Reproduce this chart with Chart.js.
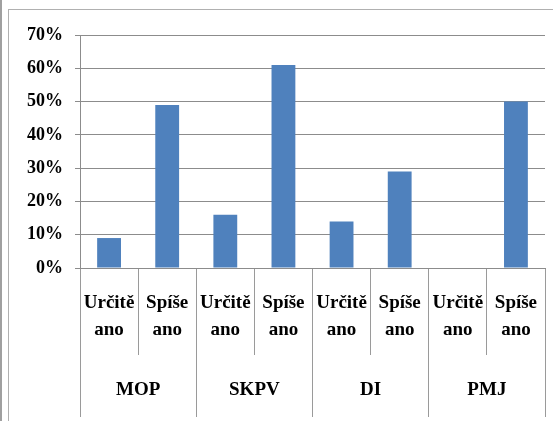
<!DOCTYPE html>
<html>
<head>
<meta charset="utf-8">
<script src="https://cdn.jsdelivr.net/npm/chart.js@4"></script>
<style>
    body { margin: 0; background: #fff; }
    #wrap { position: relative; width: 553px; height: 421px; overflow: hidden; }
    #edge { position: absolute; left: 0; top: 0; width: 2px; height: 421px; background: #a0a0a0; }
    #frame { position: absolute; left: 8px; top: 9px; width: 700px; height: 600px; border: 1px solid #b0b0b0; }
    canvas { position: absolute; left: 0; top: 0; }
</style>
</head>
<body>
<div id="wrap">
    <div id="edge"></div>
    <div id="frame"></div>
    <canvas id="chart" width="553" height="421"></canvas>
</div>
<script>
// データ
const subLabels = [["Určitě", "ano"], ["Spíše", "ano"], ["Určitě", "ano"], ["Spíše", "ano"],
                   ["Určitě", "ano"], ["Spíše", "ano"], ["Určitě", "ano"], ["Spíše", "ano"]];
const groupLabels = ["MOP", "SKPV", "DI", "PMJ"];
const values = [9, 49, 16, 61, 14, 29, 0, 50];
const yTicks = [0, 10, 20, 30, 40, 50, 60, 70];

const serif = '"Liberation Serif", "DejaVu Serif", serif';
const yFont = { family: serif, size: 18, weight: 'bold' };
const xFont = { family: serif, size: 19, weight: 'bold', lineHeight: 1.42 };
const gridColor = '#8c8c8c';
const sepColor = '#9a9a9a';

const chartContext = document.getElementById('chart').getContext('2d');

function drawChart() {
    new Chart(chartContext, {
        type: 'bar',
        data: {
            labels: subLabels,
            datasets: [{
                data: values,
                backgroundColor: '#4f81bd',
                borderWidth: 0,
                xAxisID: 'x',
                categoryPercentage: 1,
                barPercentage: 0.41
            }]
        },
        options: {
            responsive: false,
            animation: false,
            layout: { padding: { left: 0, right: 8, top: 35, bottom: 4 } },
            plugins: { legend: { display: false }, tooltip: { enabled: false } },
            scales: {
                y: {
                    min: 0,
                    max: 70,
                    afterBuildTicks: scale => { scale.ticks = yTicks.map(v => ({ value: v })); },
                    afterFit: scale => { scale.width = 80; },
                    grid: { color: gridColor, tickLength: 5 },
                    border: { color: gridColor },
                    ticks: {
                        font: yFont,
                        color: '#000',
                        padding: 12,
                        callback: v => v + '%'
                    }
                },
                x: {
                    position: 'bottom',
                    weight: 0,
                    afterFit: scale => { scale.height = 87; },
                    grid: { drawOnChartArea: false, offset: true, tickLength: 87, color: sepColor },
                    border: { color: gridColor },
                    ticks: {
                        font: xFont,
                        color: '#000',
                        autoSkip: false,
                        maxRotation: 0,
                        padding: -65.5
                    }
                },
                x2: {
                    type: 'category',
                    position: 'bottom',
                    weight: 1,
                    labels: groupLabels,
                    afterFit: scale => { scale.height = 62; },
                    grid: { drawOnChartArea: false, offset: true, tickLength: 62, color: sepColor },
                    border: { display: false },
                    ticks: {
                        font: xFont,
                        color: '#000',
                        autoSkip: false,
                        maxRotation: 0,
                        padding: -40
                    }
                }
            }
        }
    });
}

// フォント読み込み後に描画
document.fonts.load('bold 18px "Liberation Serif"').then(drawChart, drawChart);
</script>
</body>
</html>
